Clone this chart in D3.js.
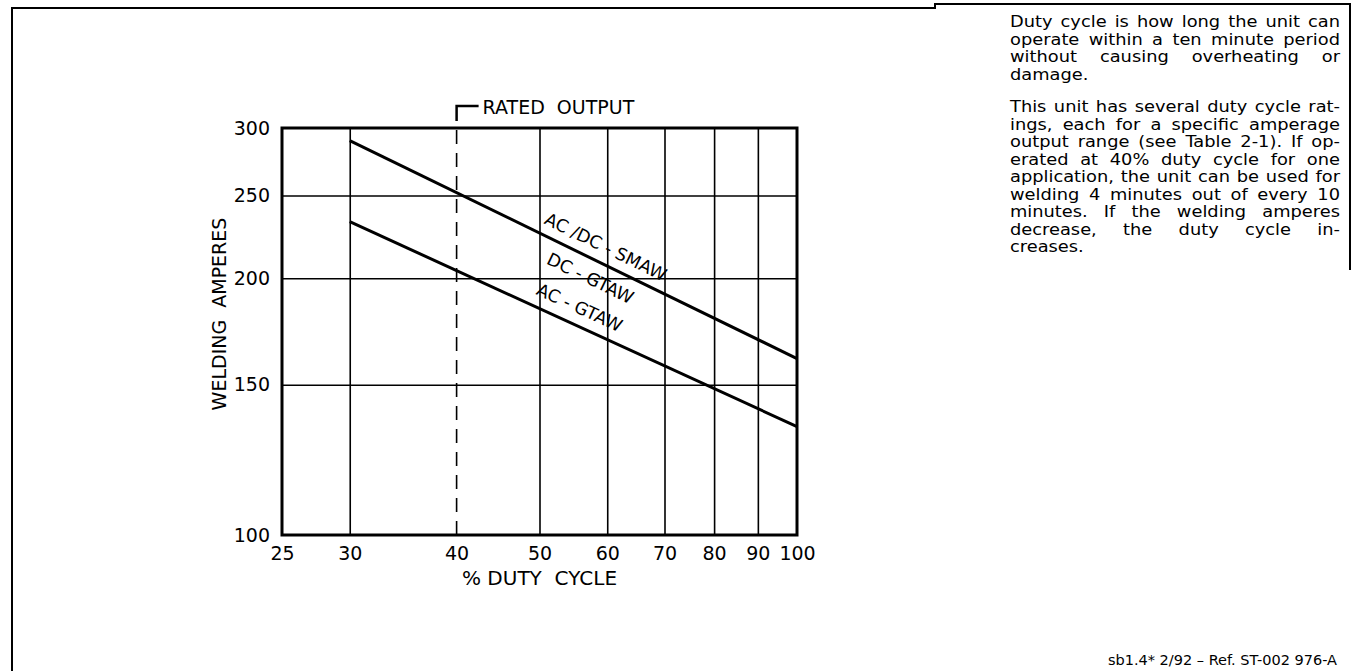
<!DOCTYPE html>
<html><head><meta charset="utf-8">
<script src="https://cdn.jsdelivr.net/npm/d3@7"></script>
<style>
body{margin:0;background:#fff}
svg{display:block}
text{font-family:"DejaVu Sans","Liberation Sans",Arial,sans-serif;fill:#000}
</style></head>
<body><svg id="c" width="1353" height="671"></svg>
<script>
// ---- data ----
const xTickValues = [25, 30, 40, 50, 60, 70, 80, 90, 100];
const yTickValues = [100, 150, 200, 250, 300];
const xGridValues = [30, 50, 60, 70, 80, 90];
const yGridValues = [150, 200, 250];
const ratedDuty = 40;
const smawDuty = [30, 100];
const smawAmps = [290, 161];
const acGtawDuty = [30, 100];
const acGtawAmps = [233, 134];
const seriesLabels = ["AC /DC - SMAW", "DC - GTAW", "AC - GTAW"];
const labelDuty = [58.6, 58.6, 54.6];
const xTitle = "% DUTY  CYCLE";
const yTitle = "WELDING  AMPERES";
const ratedLabel = "RATED  OUTPUT";
const para1 = ["Duty cycle is how long the unit can", "operate within a ten minute period", "without causing overheating or", "damage."];
const para2 = ["This unit has several duty cycle rat-", "ings, each for a specific amperage", "output range (see Table 2-1). If op-", "erated at 40% duty cycle for one", "application, the unit can be used for", "welding 4 minutes out of every 10", "minutes. If the welding amperes", "decrease, the duty cycle in-", "creases."];
const footer = "sb1.4* 2/92 \u2013 Ref. ST-002 976-A";

// ---- layout ----
const svg = d3.select("#c");
const L = 282, R = 797, T = 128, B = 535;
const x = d3.scaleLog().domain([25, 100]).range([L, R]);
const y = d3.scaleLog().domain([100, 300]).range([B, T]);

// outer frame
svg.append("path").attr("d", "M12,671 V8 H935 V4 H1350 V270")
  .attr("fill", "none").attr("stroke", "#000").attr("stroke-width", 2);

// gridlines
const g = svg.append("g");
g.append("g").attr("transform", `translate(0,${B})`)
  .call(d3.axisBottom(x).tickValues(xGridValues).tickSize(-(B - T)).tickFormat(""))
  .call(s => s.select(".domain").remove())
  .selectAll("line").attr("stroke", "#000").attr("stroke-width", 1.6);
g.append("g").attr("transform", `translate(${L},0)`)
  .call(d3.axisLeft(y).tickValues(yGridValues).tickSize(-(R - L)).tickFormat(""))
  .call(s => s.select(".domain").remove())
  .selectAll("line").attr("stroke", "#000").attr("stroke-width", 1.6);

// rated output dashed line and bracket
const xr = x(ratedDuty);
svg.append("line").attr("x1", xr).attr("x2", xr).attr("y1", T + 2).attr("y2", B)
  .attr("stroke", "#000").attr("stroke-width", 1.6).attr("stroke-dasharray", "14,9");
svg.append("path").attr("d", `M${xr + 22},106 H${xr} V121`)
  .attr("fill", "none").attr("stroke", "#000").attr("stroke-width", 2.5);
svg.append("text").attr("x", xr + 26).attr("y", 113.5).attr("font-size", 19)
  .style("white-space", "pre").text(ratedLabel);

// axes labels
const xa = svg.append("g").attr("transform", `translate(0,${B})`)
  .call(d3.axisBottom(x).tickValues(xTickValues).tickSize(0).tickPadding(12).tickFormat(d3.format("d")));
xa.select(".domain").remove();
xa.selectAll("text").attr("font-size", 19).attr("font-family", null);
const ya = svg.append("g").attr("transform", `translate(${L},0)`)
  .call(d3.axisLeft(y).tickValues(yTickValues).tickSize(0).tickPadding(12).tickFormat(d3.format("d")));
ya.select(".domain").remove();
ya.selectAll("text").attr("font-size", 19).attr("font-family", null);

// plot frame
svg.append("rect").attr("x", L).attr("y", T).attr("width", R - L).attr("height", B - T)
  .attr("fill", "none").attr("stroke", "#000").attr("stroke-width", 3);

// series lines
const line = d3.line().x(d => x(d[0])).y(d => y(d[1]));
const s1 = smawDuty.map((d, i) => [d, smawAmps[i]]);
const s2 = acGtawDuty.map((d, i) => [d, acGtawAmps[i]]);
[s1, s2].forEach(s => svg.append("path").attr("d", line(s)).attr("fill", "none")
  .attr("stroke", "#000").attr("stroke-width", 3));

// series labels
function onLine(s, d) {
  const t = Math.log(d / s[0][0]) / Math.log(s[1][0] / s[0][0]);
  return Math.exp(Math.log(s[0][1]) + t * (Math.log(s[1][1]) - Math.log(s[0][1])));
}
const lineSets = [s1, s1, s2];
const dys = [-10.5, 24.5, -11.5];
seriesLabels.forEach((lab, i) => {
  const s = lineSets[i];
  const ang = Math.atan2(y(s[1][1]) - y(s[0][1]), x(s[1][0]) - x(s[0][0])) * 180 / Math.PI;
  const px = x(labelDuty[i]), py = y(onLine(s, labelDuty[i]));
  svg.append("text").attr("transform", `translate(${px},${py}) rotate(${ang})`)
    .attr("dy", dys[i]).attr("text-anchor", "middle").attr("font-size", 17.5)
    .style("white-space", "pre").text(lab);
});

// axis titles
svg.append("text").attr("x", (L + R) / 2).attr("y", 585).attr("text-anchor", "middle")
  .attr("font-size", 20).style("white-space", "pre").text(xTitle);
svg.append("text").attr("transform", "translate(226,314) rotate(-90)").attr("text-anchor", "middle")
  .attr("font-size", 19).style("white-space", "pre").text(yTitle);

// paragraph text (justified)
const PX = 1010, PW = 330, FS = 15.5, LH = 17.5, SX = 1.15;
const pg = svg.append("g").attr("transform", `translate(${PX},0) scale(${SX},1)`);
function para(lines, y0) {
  const W = PW / SX;
  lines.forEach((ln, i) => {
    const t = pg.append("text").attr("font-size", FS).attr("y", y0 + i * LH);
    const words = ln.split(" ");
    if (i === lines.length - 1) { t.attr("x", 0).text(ln); return; }
    const spans = words.map(w => t.append("tspan").text(w));
    const widths = spans.map(s => s.node().getComputedTextLength());
    const gap = (W - d3.sum(widths)) / (words.length - 1);
    let cx = 0;
    spans.forEach((s, k) => { s.attr("x", cx); cx += widths[k] + gap; });
  });
}
para(para1, 27.5);
para(para2, 112.5);

svg.append("text").attr("x", 1337).attr("y", 665).attr("text-anchor", "end")
  .attr("font-size", 14.5).text(footer);
</script></body></html>
